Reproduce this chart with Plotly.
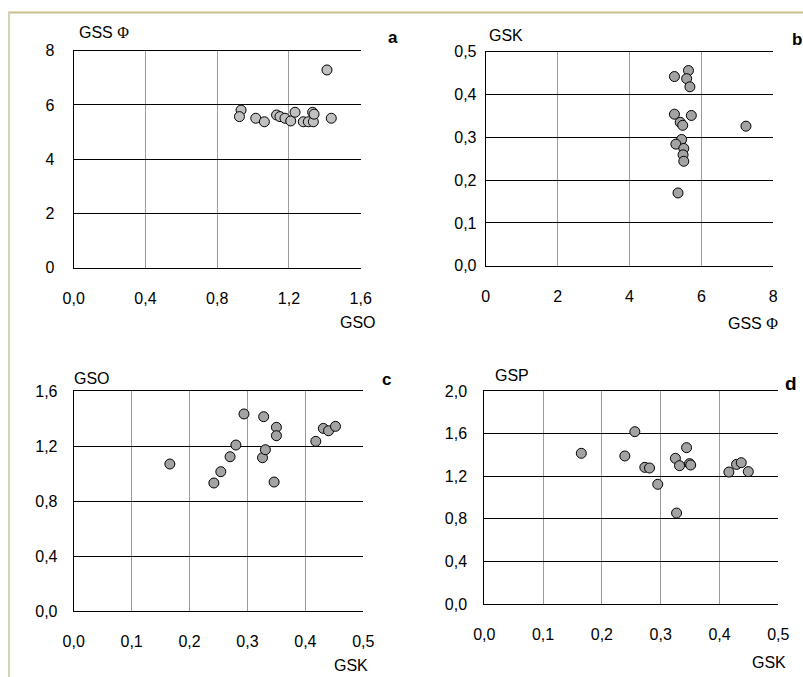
import plotly.graph_objects as go

# ---- data ----
a_gso = [0.933, 0.924, 1.015, 1.063, 1.131, 1.150, 1.178, 1.210, 1.234, 1.280, 1.308, 1.332, 1.336, 1.340, 1.412, 1.436]
a_gss = [5.81, 5.57, 5.51, 5.38, 5.63, 5.57, 5.51, 5.41, 5.73, 5.38, 5.38, 5.73, 5.38, 5.66, 7.29, 5.51]

b_gss = [5.25, 5.64, 5.59, 5.68, 5.25, 5.72, 5.41, 5.48, 7.24, 5.45, 5.29, 5.51, 5.49, 5.51, 5.35]
b_gsk = [0.442, 0.456, 0.437, 0.418, 0.354, 0.351, 0.335, 0.328, 0.326, 0.295, 0.284, 0.274, 0.259, 0.244, 0.170]

c_gsk = [0.166, 0.242, 0.254, 0.270, 0.280, 0.294, 0.326, 0.331, 0.328, 0.350, 0.350, 0.346, 0.418, 0.431, 0.440, 0.452]
c_gso = [1.069, 0.931, 1.013, 1.122, 1.207, 1.433, 1.115, 1.173, 1.413, 1.336, 1.275, 0.938, 1.234, 1.328, 1.311, 1.343]

d_gsk = [0.165, 0.239, 0.256, 0.273, 0.281, 0.295, 0.325, 0.332, 0.344, 0.349, 0.351, 0.327, 0.416, 0.429, 0.437, 0.449]
d_gsp = [1.415, 1.390, 1.618, 1.283, 1.277, 1.124, 1.368, 1.299, 1.468, 1.318, 1.305, 0.854, 1.239, 1.311, 1.327, 1.243]

a_xticks = [0, 0.4, 0.8, 1.2, 1.6]
a_yticks = [0, 2, 4, 6, 8]
b_xticks = [0, 2, 4, 6, 8]
b_yticks = [0, 0.1, 0.2, 0.3, 0.4, 0.5]
c_xticks = [0, 0.1, 0.2, 0.3, 0.4, 0.5]
c_yticks = [0, 0.4, 0.8, 1.2, 1.6]
d_xticks = [0, 0.1, 0.2, 0.3, 0.4, 0.5]
d_yticks = [0, 0.4, 0.8, 1.2, 1.6, 2.0]

PHI = "<span style='font-family:Liberation Serif'>Φ</span>"
labels = {
    "a": ("GSS " + PHI, "GSO"),
    "b": ("GSK", "GSS " + PHI),
    "c": ("GSO", "GSK"),
    "d": ("GSP", "GSK"),
}

W, H = 803, 677
FONT = "Liberation Sans, Arial, sans-serif"
TICK_SIZE = 16
TITLE_SIZE = 16


def px(x):
    return x / W


def py(y):
    return 1 - y / H


fig = go.Figure()

panels = [
    # key, x, y, xticks, yticks, xfmt, yfmt, domain (left,right,top,bottom px), fill, ylabgap
    ("a", a_gso, a_gss, a_xticks, a_yticks, ".1f", "d", (73.7, 360.7, 50.7, 267.7), "#C0C0C0", 15),
    ("b", b_gss, b_gsk, b_xticks, b_yticks, "d", ".1f", (485.7, 773.3, 51.7, 265.7), "#A3A3A3", 5),
    ("c", c_gsk, c_gso, c_xticks, c_yticks, ".1f", ".1f", (73.7, 363.3, 391, 611), "#A3A3A3", 12),
    ("d", d_gsk, d_gsp, d_xticks, d_yticks, ".1f", ".1f", (484.3, 778.3, 391, 604), "#A3A3A3", 13),
]

for i, (key, xs, ys, xt, yt, xf, yf, dom, fill, ygap) in enumerate(panels):
    n = "" if i == 0 else str(i + 1)
    fig.add_trace(go.Scatter(
        x=xs, y=ys, mode="markers", xaxis="x" + n, yaxis="y" + n,
        marker=dict(size=10, color=fill, line=dict(color="#000000", width=1)),
        showlegend=False, cliponaxis=False,
    ))
    l, r, t, b = dom
    fig.layout["xaxis" + n] = dict(
        domain=[px(l), px(r)], anchor="y" + n, range=[xt[0], xt[-1]],
        tickvals=xt, tickformat=xf, showgrid=True, gridcolor="#9A9A9A", gridwidth=1,
        zeroline=False, showline=True, linecolor="#000000", linewidth=1, mirror=True,
        ticks="outside", ticklen=16, tickcolor="rgba(0,0,0,0)", automargin=False,
        tickfont=dict(family=FONT, size=TICK_SIZE, color="#000000"), fixedrange=True,
    )
    fig.layout["yaxis" + n] = dict(
        domain=[py(b), py(t)], anchor="x" + n, range=[yt[0], yt[-1]],
        tickvals=yt, tickformat=yf, showgrid=True, gridcolor="#000000", gridwidth=1,
        zeroline=False, showline=True, linecolor="#000000", linewidth=1,
        ticks="outside", ticklen=ygap, tickcolor="rgba(0,0,0,0)", automargin=False,
        tickfont=dict(family=FONT, size=TICK_SIZE, color="#000000"), fixedrange=True,
    )

ann = []
# y titles (top-left), x titles (bottom-right), panel letters
ytitle_pos = {"a": (77, 33), "b": (487, 36), "c": (72, 378), "d": (493, 375)}
xtitle_pos = {"a": (378, 322), "b": (780, 323), "c": (370, 665), "d": (788, 662)}
letter_pos = {"a": (393, 37), "b": (797, 39), "c": (386, 379), "d": (791, 383)}
letter_size = {"a": 17, "b": 17, "c": 17, "d": 19}
for key in ["a", "b", "c", "d"]:
    yl, xl = labels[key]
    x0, y0 = ytitle_pos[key]
    ann.append(dict(text=yl, x=px(x0), y=py(y0), xref="paper", yref="paper",
                    xanchor="left", yanchor="middle", showarrow=False,
                    font=dict(family=FONT, size=TITLE_SIZE, color="#000000")))
    x1, y1 = xtitle_pos[key]
    ann.append(dict(text=xl, x=px(x1), y=py(y1), xref="paper", yref="paper",
                    xanchor="right", yanchor="middle", showarrow=False,
                    font=dict(family=FONT, size=TITLE_SIZE, color="#000000")))
    x2, y2 = letter_pos[key]
    ann.append(dict(text="<b>" + key + "</b>", x=px(x2), y=py(y2), xref="paper", yref="paper",
                    xanchor="center", yanchor="middle", showarrow=False,
                    font=dict(family=FONT, size=letter_size[key], color="#000000")))

shapes = [
    dict(type="line", xref="paper", yref="paper", x0=px(8), x1=1.0, y0=py(12.5), y1=py(12.5),
         line=dict(color="#CABD8E", width=2)),
    dict(type="line", xref="paper", yref="paper", x0=px(9), x1=px(9), y0=py(12), y1=0,
         line=dict(color="#D6D2B4", width=2)),
]

fig.update_layout(
    width=W, height=H, margin=dict(l=0, r=0, t=0, b=0, pad=0),
    paper_bgcolor="#FFFFFF", plot_bgcolor="#FFFFFF",
    separators=",.", annotations=ann, shapes=shapes,
    font=dict(family=FONT, size=TICK_SIZE, color="#000000"),
)

fig.write_html("out.html", config={"displayModeBar": False})

# remove the browser's default page margin so the figure sits at (0, 0)
with open("out.html", "r", encoding="utf-8") as f:
    html = f.read()
html = html.replace("<head>", "<head><style>html,body{margin:0;padding:0;overflow:hidden;}</style>", 1)
with open("out.html", "w", encoding="utf-8") as f:
    f.write(html)
